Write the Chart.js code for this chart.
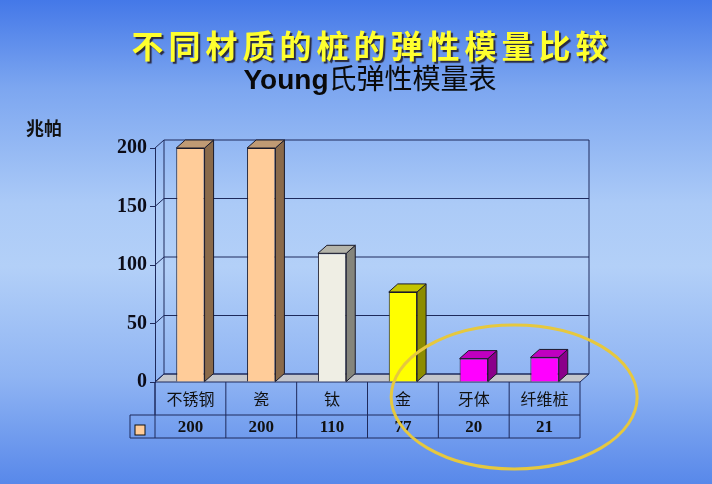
<!DOCTYPE html>
<html lang="zh">
<head>
<meta charset="utf-8">
<title>不同材质的桩的弹性模量比较</title>
<script src="https://cdn.jsdelivr.net/npm/chart.js@4.4.1/dist/chart.umd.min.js"></script>
<style>
  html, body { margin: 0; padding: 0; }
  body {
    width: 712px; height: 484px; overflow: hidden; position: relative;
    background: linear-gradient(180deg, #4478e8 0%, #7ca6f0 18%, #abcaf7 42%, #b3d0f8 55%, #8fb4f3 78%, #5888ea 100%);
    font-family: "Noto Sans CJK SC", "DejaVu Sans", sans-serif;
  }
  #chartCanvas { position: absolute; left: 0; top: 0; }
  .title {
    position: absolute; left: 16px; width: 712px; top: 21px; text-align: center;
    font-size: 32px; font-weight: 700; letter-spacing: 5px; color: #ffff2e;
    text-shadow: 2px 2px 1px #2a2a40;
  }
  .subtitle {
    position: absolute; left: 8px; width: 724px; top: 57px; text-align: center;
    font-size: 28px; color: #0a0a0a;
  }
  .subtitle b { font-family: "Liberation Sans", Arial, sans-serif; font-weight: 700; }
  .unit {
    position: absolute; left: 26px; top: 114px; font-size: 18px; font-weight: 700; color: #111;
  }
</style>
</head>
<body>
<canvas id="chartCanvas" width="712" height="484"></canvas>
<div class="title">不同材质的桩的弹性模量比较</div>
<div class="subtitle"><b>Young</b>氏弹性模量表</div>
<div class="unit">兆帕</div>
<script>
// 桩材料的弹性模量 (兆帕)
const categories = ['不锈钢', '瓷', '钛', '金', '牙体', '纤维桩'];
const modulusValues = [200, 200, 110, 77, 20, 21];
const yTickValues = [0, 50, 100, 150, 200];

const frontColors = ['#ffcc99', '#ffcc99', '#efeee4', '#ffff00', '#ff00ff', '#ff00ff'];
const sideColors = ['#8a6a4a', '#8a6a4a', '#85857c', '#8c8c00', '#8a008a', '#8a008a'];
const topColors = ['#bf9a74', '#bf9a74', '#b4b4aa', '#c4c400', '#c000c0', '#c000c0'];

const lineColor = '#1e2a5c';
const depthX = 9;
const depthY = 8;

// back wall, floor and the 3d side/top faces of each bar
const threeD = {
  id: 'threeD',
  beforeDatasetsDraw(chart) {
    const { ctx, chartArea: a, scales } = chart;
    const y = scales.y;
    ctx.save();
    ctx.strokeStyle = lineColor;
    ctx.lineWidth = 1;
    // floor
    ctx.fillStyle = '#c4c6cc';
    ctx.beginPath();
    ctx.moveTo(a.left, a.bottom);
    ctx.lineTo(a.right, a.bottom);
    ctx.lineTo(a.right + depthX, a.bottom - depthY);
    ctx.lineTo(a.left + depthX, a.bottom - depthY);
    ctx.closePath();
    ctx.fill();
    ctx.stroke();
    // back wall grid
    yTickValues.forEach(v => {
      const py = y.getPixelForValue(v);
      ctx.beginPath();
      ctx.moveTo(a.left, py);
      ctx.lineTo(a.left + depthX, py - depthY);
      ctx.lineTo(a.right + depthX, py - depthY);
      ctx.stroke();
    });
    ctx.beginPath();
    ctx.moveTo(a.left + depthX, a.top - depthY);
    ctx.lineTo(a.left + depthX, a.bottom - depthY);
    ctx.moveTo(a.right + depthX, a.top - depthY);
    ctx.lineTo(a.right + depthX, a.bottom - depthY);
    ctx.stroke();
    ctx.restore();
  },
  afterDatasetsDraw(chart) {
    const { ctx } = chart;
    const meta = chart.getDatasetMeta(0);
    ctx.save();
    ctx.strokeStyle = '#1a1a2a';
    ctx.lineWidth = 1;
    meta.data.forEach((bar, i) => {
      const { x, y, base, width } = bar.getProps(['x', 'y', 'base', 'width'], true);
      const l = x - width / 2;
      const r = x + width / 2;
      ctx.fillStyle = sideColors[i];
      ctx.beginPath();
      ctx.moveTo(r, y);
      ctx.lineTo(r + depthX, y - depthY);
      ctx.lineTo(r + depthX, base - depthY);
      ctx.lineTo(r, base);
      ctx.closePath();
      ctx.fill();
      ctx.stroke();
      ctx.fillStyle = topColors[i];
      ctx.beginPath();
      ctx.moveTo(l, y);
      ctx.lineTo(l + depthX, y - depthY);
      ctx.lineTo(r + depthX, y - depthY);
      ctx.lineTo(r, y);
      ctx.closePath();
      ctx.fill();
      ctx.stroke();
    });
    ctx.restore();
  }
};

// data table under the plot, plus the highlight ellipse
const dataTable = {
  id: 'dataTable',
  afterDraw(chart) {
    const { ctx, chartArea: a, scales } = chart;
    const x = scales.x;
    const colW = (a.right - a.left) / categories.length;
    const row1 = a.bottom, row2 = a.bottom + 33, row3 = a.bottom + 56;
    const legendLeft = a.left - 25;
    ctx.save();
    ctx.strokeStyle = lineColor;
    ctx.lineWidth = 1;
    ctx.beginPath();
    ctx.moveTo(a.left, row1); ctx.lineTo(a.left, row2);
    ctx.moveTo(legendLeft, row2); ctx.lineTo(a.right, row2);
    ctx.moveTo(legendLeft, row3); ctx.lineTo(a.right, row3);
    ctx.moveTo(legendLeft, row2); ctx.lineTo(legendLeft, row3);
    for (let i = 0; i <= categories.length; i++) {
      const cx = a.left + i * colW;
      ctx.moveTo(cx, row1); ctx.lineTo(cx, row3);
    }
    ctx.stroke();

    ctx.fillStyle = frontColors[0];
    ctx.fillRect(legendLeft + 5, row2 + 10, 10, 10);
    ctx.strokeStyle = '#111';
    ctx.strokeRect(legendLeft + 5, row2 + 10, 10, 10);

    ctx.fillStyle = '#111';
    ctx.textAlign = 'center';
    ctx.textBaseline = 'middle';
    categories.forEach((c, i) => {
      const cx = x.getPixelForValue(i);
      ctx.font = '16px "Noto Sans CJK SC"';
      ctx.fillText(c, cx, row1 + 17);
      ctx.font = 'bold 17px "Liberation Serif"';
      ctx.fillText(String(modulusValues[i]), cx, row2 + 13);
    });

    // highlight ring around the low-modulus materials
    const ex = (x.getPixelForValue(4) + x.getPixelForValue(5)) / 2 + 5;
    ctx.strokeStyle = '#e6c83e';
    ctx.lineWidth = 3;
    ctx.beginPath();
    ctx.ellipse(ex, row1 + 15, 123, 72, 0, 0, Math.PI * 2);
    ctx.stroke();
    ctx.restore();
  }
};

new Chart(document.getElementById('chartCanvas').getContext('2d'), {
  type: 'bar',
  data: {
    labels: categories,
    datasets: [{
      label: '弹性模量',
      data: modulusValues,
      backgroundColor: frontColors,
      borderColor: '#1a1a2a',
      borderWidth: 1,
      barPercentage: 0.4,
      categoryPercentage: 1
    }]
  },
  options: {
    responsive: false,
    animation: false,
    layout: { padding: { left: 0, top: 148, right: 132, bottom: 102 } },
    plugins: { legend: { display: false }, tooltip: { enabled: false } },
    scales: {
      x: { display: false },
      y: {
        min: 0,
        max: 200,
        afterFit: s => { s.width = 155; },
        afterBuildTicks: s => { s.ticks = yTickValues.map(v => ({ value: v })); },
        ticks: {
          color: '#0c0c18',
          padding: 3,
          font: { family: '"Liberation Serif"', weight: 'bold', size: 20 }
        },
        grid: { drawOnChartArea: false, drawTicks: true, tickLength: 5, color: lineColor },
        border: { display: true, color: lineColor }
      }
    }
  },
  plugins: [threeD, dataTable]
});
</script>
</body>
</html>
